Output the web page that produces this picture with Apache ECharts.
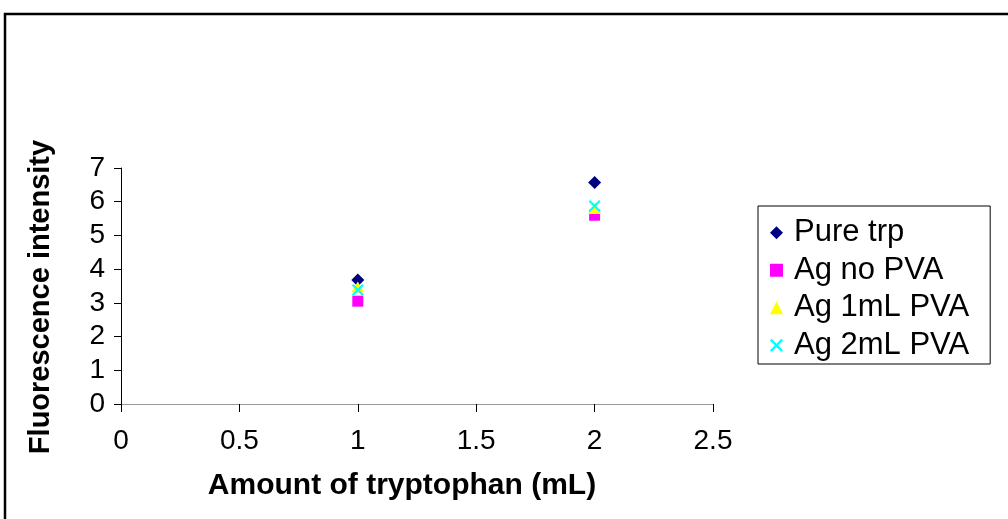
<!DOCTYPE html>
<html>
<head>
<meta charset="utf-8">
<script src="https://cdn.jsdelivr.net/npm/echarts@6/dist/echarts.min.js"></script>
<style>
html,body{margin:0;padding:0;background:#fff;}
#c{width:1008px;height:519px;}
</style>
</head>
<body>
<div id="c"></div>
<script>
var xValues = [1, 2];
var pureTrp = [3.68, 6.57];
var agNoPVA = [3.05, 5.6];
var ag1mLPVA = [3.47, 5.8];
var ag2mLPVA = [3.38, 5.87];
var seriesNames = ['Pure trp', 'Ag no PVA', 'Ag 1mL PVA', 'Ag 2mL PVA'];
var xTitle = 'Amount of tryptophan (mL)';
var yTitle = 'Fluorescence intensity';

var FONT = 'Liberation Sans, Arial, sans-serif';
var crossPath = 'path://M0,1.5L1.5,0L6,4.5L10.5,0L12,1.5L7.5,6L12,10.5L10.5,12L6,7.5L1.5,12L0,10.5L4.5,6Z';

function pts(ys){ return xValues.map(function(x,i){ return [x, ys[i]]; }); }

var chart = echarts.init(document.getElementById('c'), null, {renderer:'canvas'});
chart.setOption({
  animation: false,
  backgroundColor: '#fff',
  grid: {left: 121, top: 168, width: 592, height: 236, containLabel: false},
  xAxis: [{
    type: 'value', min: 0, max: 2.5, interval: 0.5,
    axisLine: {show: true, onZero: false, lineStyle: {color: '#000', width: 1}},
    axisTick: {show: true, inside: false, length: 8, lineStyle: {color: '#000'}},
    axisLabel: {color: '#000', fontSize: 28, fontFamily: FONT, margin: 23},
    splitLine: {show: false}
  }, {
    type: 'value', min: 0, max: 2.5, position: 'top',
    axisLine: {show: true, lineStyle: {color: '#999', width: 1}},
    axisTick: {show: false}, axisLabel: {show: false}, splitLine: {show: false}
  }],
  yAxis: {
    type: 'value', min: 0, max: 7, interval: 1,
    axisLine: {show: true, lineStyle: {color: '#000', width: 1}},
    axisTick: {show: true, inside: false, length: 7, lineStyle: {color: '#000'}},
    axisLabel: {color: '#000', fontSize: 28, fontFamily: FONT, margin: 16},
    splitLine: {show: false}
  },
  legend: {
    orient: 'vertical',
    left: 758, top: 206,
    padding: [8, 21, 0, 12],
    itemGap: 0,
    itemWidth: 13, itemHeight: 13,
    borderColor: '#000', borderWidth: 1,
    textStyle: {fontSize: 31, fontFamily: FONT, color: '#000', lineHeight: 37.5, padding: [0, 0, 0, 6]},
    data: seriesNames
  },
  series: [
    {name: seriesNames[0], type: 'scatter', data: pts(pureTrp), symbol: 'diamond', symbolSize: 13,
     itemStyle: {color: '#000080', opacity: 1}},
    {name: seriesNames[1], type: 'scatter', data: pts(agNoPVA), symbol: 'rect', symbolSize: 11,
     itemStyle: {color: '#FF00FF', opacity: 1}},
    {name: seriesNames[2], type: 'scatter', data: pts(ag1mLPVA), symbol: 'triangle', symbolSize: [13, 11],
     itemStyle: {color: '#FFFF00', opacity: 1}},
    {name: seriesNames[3], type: 'scatter', data: pts(ag2mLPVA), symbol: crossPath, symbolSize: 12,
     itemStyle: {color: '#00FFFF', opacity: 1}}
  ],
  graphic: [
    {type: 'rect', shape: {x: 5, y: 14, width: 1100, height: 600},
     style: {fill: 'none', stroke: '#000', lineWidth: 2.5}, silent: true, z: -1},
    {type: 'text', x: 402, y: 486,
     style: {text: xTitle, fontSize: 30, fontWeight: 'bold', fontFamily: FONT, fill: '#000',
             align: 'center', verticalAlign: 'middle'}},
    {type: 'text', x: 41, y: 297, rotation: Math.PI / 2,
     style: {text: yTitle, fontSize: 29, fontWeight: 'bold', fontFamily: FONT, fill: '#000',
             align: 'center', verticalAlign: 'middle'}}
  ]
});
</script>
</body>
</html>
